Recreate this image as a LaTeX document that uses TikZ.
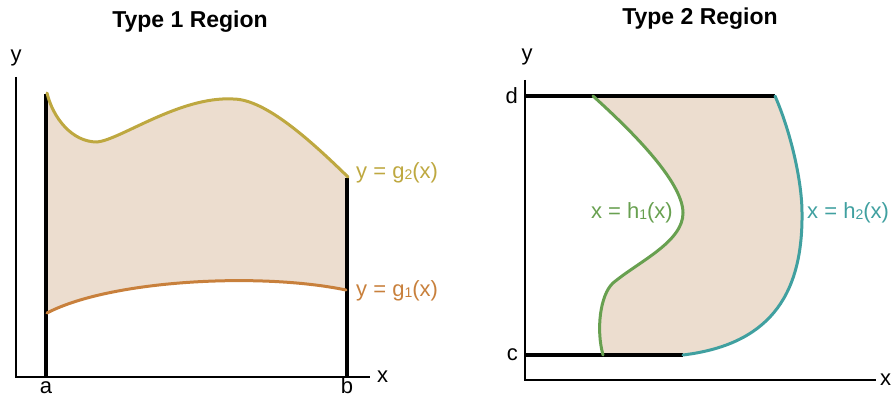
\documentclass[tikz,border=0pt]{standalone}
\usepackage{fontspec}
\setmainfont{Liberation Sans}
\usetikzlibrary{positioning}
\definecolor{regionfill}{RGB}{236,221,207}
\definecolor{upperolive}{RGB}{190,168,64}
\definecolor{lowerorange}{RGB}{200,128,60}
\definecolor{leftgreen}{RGB}{104,160,80}
\definecolor{rightteal}{RGB}{64,160,160}
\newcommand{\lowsub}[1]{\raisebox{-0.5pt}{\fontsize{14}{14}\selectfont #1}}

\begin{document}
\begin{tikzpicture}[x=1pt, y=-1pt,
  title/.style={font=\fontsize{23}{23}\selectfont\bfseries},
  lab/.style={font=\fontsize{22}{22}\selectfont, inner sep=1pt},
  axis/.style={line width=2pt},
  bound/.style={line width=4pt},
  curve/.style={line width=3pt, line cap=round}
]
\useasboundingbox (0,0) rectangle (893,398);

% Type 1 region
\node[title] (t1) at (190,22) {Type 1 Region};
\coordinate (o1) at (16,377);
\coordinate (ytop1) at (16,77);
\coordinate (xend1) at (370,377);
\node[lab] (y1) at (16,58) {y};
\node[lab, anchor=west] (x1) at (376,377) {x};
\fill[regionfill] (47,93) .. controls (53,118) and (72,142) .. (97,142)
  .. controls (120,140) and (180,96) .. (233,99)
  .. controls (265,99) and (310,140) .. (348,177)
  -- (348,290) .. controls (260,272) and (110,280) .. (47,313) -- cycle;
\draw[axis] (ytop1) -- (o1) -- (xend1);
\draw[bound] (46,94) coordinate (atop) -- (46,377) coordinate (abot);
\draw[bound] (347,178) coordinate (btop) -- (347,377) coordinate (bbot);
\draw[curve, upperolive] (47,93) .. controls (53,118) and (72,142) .. (97,142)
  .. controls (120,140) and (180,96) .. (233,99)
  .. controls (265,99) and (310,140) .. (348,177) coordinate (g2end);
\draw[curve, lowerorange] (47,313) .. controls (110,280) and (260,272) .. (346,290) coordinate (g1end);
\node[lab, anchor=base] (a) at (46,393) {a};
\node[lab, anchor=base] (b) at (347,393) {b};
\node[lab, upperolive, anchor=west] (g2) at (355,173) {y = g\lowsub{2}(x)};
\node[lab, lowerorange, anchor=west] (g1) at (355,291) {y = g\lowsub{1}(x)};

% Type 2 region
\node[title] (t2) at (700,19) {Type 2 Region};
\coordinate (o2) at (525,380);
\coordinate (ytop2) at (525,80);
\coordinate (xend2) at (876,380);
\node[lab] (y2) at (527,57) {y};
\node[lab, anchor=west] (x2) at (879,380) {x};
\fill[regionfill] (593,96) -- (775,96)
  .. controls (790,130) and (802,180) .. (802,213)
  .. controls (803,300) and (765,345) .. (683,355)
  -- (603,355) .. controls (596,330) and (600,295) .. (613,283)
  .. controls (638,262) and (683,242) .. (683,213)
  .. controls (683,180) and (625,125) .. (593,96) -- cycle;
\draw[axis] (ytop2) -- (o2) -- (xend2);
\draw[bound] (525,96) coordinate (dleft) -- (775,96) coordinate (dright);
\draw[bound] (525,355) coordinate (cleft) -- (683,355) coordinate (cright);
\draw[curve, leftgreen] (593,96) .. controls (625,125) and (683,180) .. (683,213)
  .. controls (683,242) and (638,262) .. (613,283)
  .. controls (600,295) and (596,330) .. (603,355);
\draw[curve, rightteal] (dright) .. controls (790,130) and (802,180) .. (802,213) coordinate (h2mid)
  .. controls (803,300) and (765,345) .. (cright);
\node[lab, left=6pt of dleft] (d) {d};
\node[lab, left=6pt of cleft] (c) {c};
\node[lab, leftgreen, anchor=east] (h1) at (674,213) {x = h\lowsub{1}(x)};
\node[lab, rightteal, right=4pt of h2mid] (h2) {x = h\lowsub{2}(x)};
\end{tikzpicture}
\end{document}
